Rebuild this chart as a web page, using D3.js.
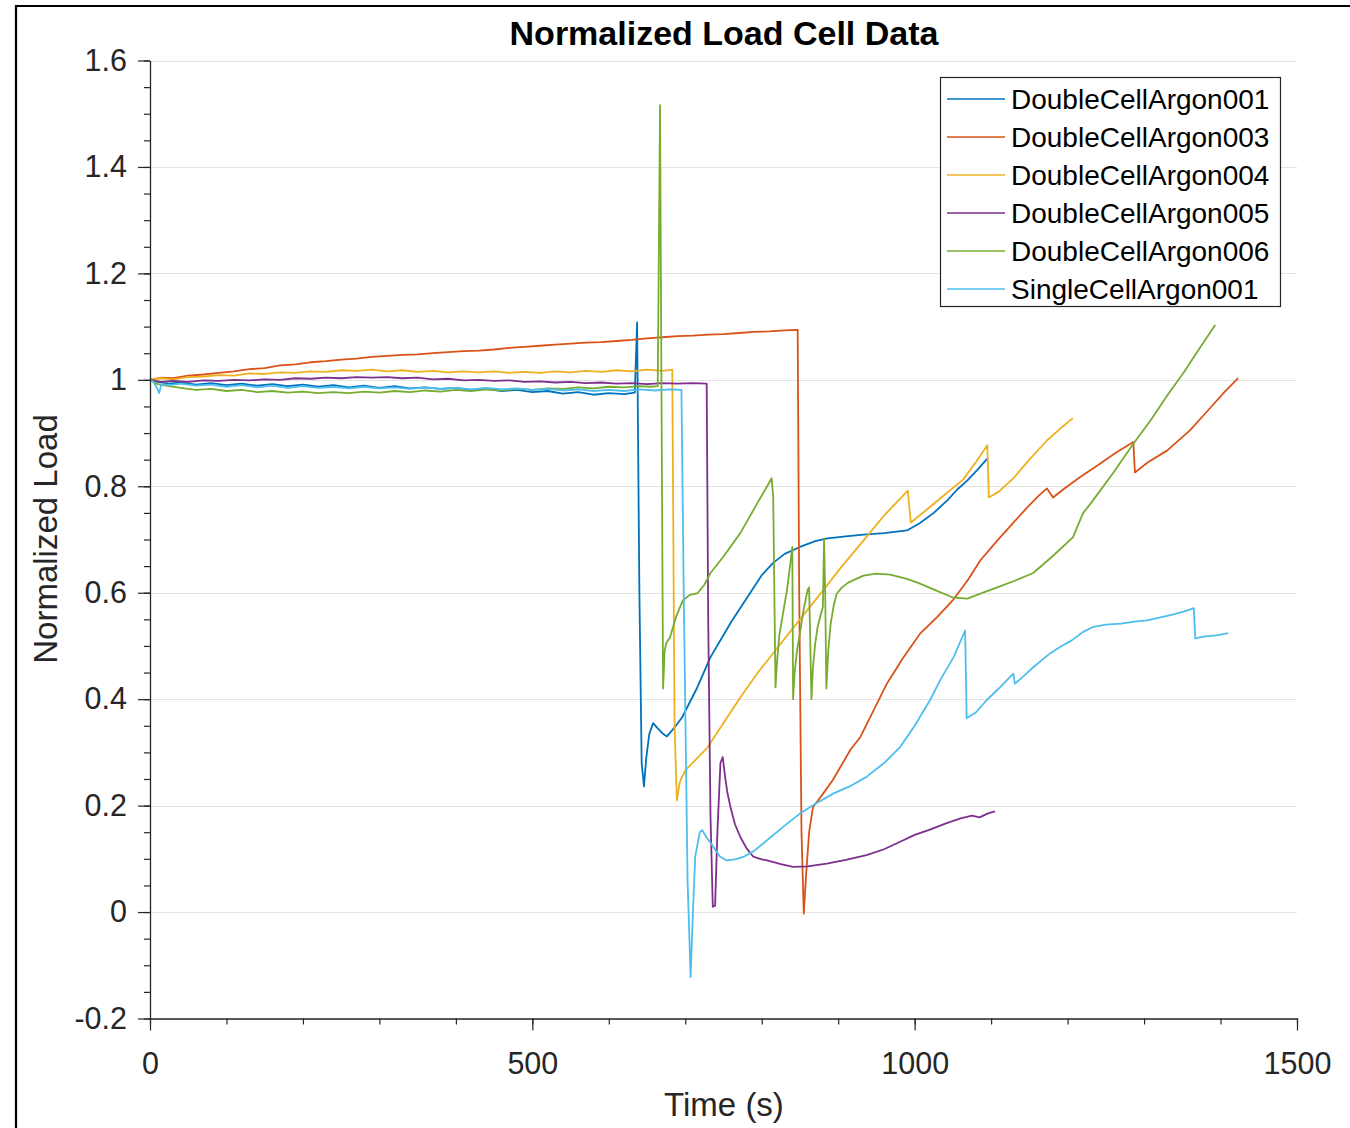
<!DOCTYPE html>
<html><head><meta charset="utf-8">
<script src="https://cdn.jsdelivr.net/npm/d3@7"></script>
<style>body{margin:0;background:#fff}text{font-family:"Liberation Sans",Arial,Helvetica,sans-serif}</style>
</head><body>
<svg id="chart" width="1350" height="1128"></svg>
<script>
const seriesNames = ["DoubleCellArgon001","DoubleCellArgon003","DoubleCellArgon004","DoubleCellArgon005","DoubleCellArgon006","SingleCellArgon001"];
const seriesColors = ["#0072BD","#D95319","#EDB120","#7E2F8E","#77AC30","#4DBEEE"];

// [time (s), normalized load]
const dca001 = [[0,1.002],[10,0.996],[25,0.993],[40,0.995],[60,0.991],[80,0.994],[100,0.990],[120,0.993],[140,0.989],[160,0.992],[180,0.988],[200,0.991],[220,0.987],[240,0.990],[260,0.986],[280,0.989],[300,0.985],[320,0.988],[340,0.984],[360,0.986],[380,0.983],[400,0.985],[420,0.981],[440,0.983],[460,0.979],[480,0.981],[500,0.977],[520,0.979],[540,0.974],[560,0.977],[580,0.972],[600,0.975],[620,0.973],[634,0.976],[637,1.108],[640,0.60],[643,0.28],[646,0.236],[649,0.29],[653,0.335],[658,0.355],[664,0.345],[670,0.336],[676,0.330],[685,0.345],[696,0.366],[715,0.42],[733,0.479],[760,0.545],[785,0.60],[800,0.633],[815,0.656],[830,0.673],[850,0.686],[870,0.697],[886,0.702],[910,0.706],[933,0.709],[960,0.712],[990,0.717],[1007,0.731],[1025,0.750],[1043,0.774],[1055,0.793],[1069,0.811],[1082,0.831],[1095,0.852]];

const dca003 = [[0,1.000],[15,1.004],[30,1.003],[50,1.008],[70,1.010],[90,1.013],[110,1.016],[130,1.020],[150,1.022],[170,1.027],[190,1.029],[210,1.033],[230,1.035],[250,1.038],[270,1.040],[290,1.043],[310,1.045],[330,1.047],[350,1.048],[370,1.050],[390,1.052],[410,1.054],[430,1.055],[450,1.057],[470,1.060],[490,1.062],[510,1.064],[530,1.066],[550,1.068],[570,1.070],[590,1.071],[610,1.073],[630,1.075],[650,1.078],[670,1.080],[690,1.082],[710,1.083],[730,1.085],[750,1.086],[770,1.088],[790,1.090],[810,1.091],[830,1.093],[847,1.094],[849,0.6],[852,0.15],[855,-0.003],[858,0.07],[862,0.15],[867,0.197],[880,0.222],[893,0.248],[916,0.305],[929,0.329],[945,0.375],[964,0.43],[985,0.478],[1007,0.523],[1030,0.555],[1050,0.586],[1070,0.625],[1086,0.661],[1108,0.698],[1128,0.73],[1147,0.76],[1162,0.782],[1173,0.796],[1181,0.779],[1195,0.795],[1216,0.817],[1240,0.84],[1262,0.862],[1286,0.883],[1288,0.826],[1305,0.845],[1330,0.867],[1360,0.905],[1387,0.948],[1405,0.977],[1423,1.003]];

const dca004 = [[0,1.000],[15,1.003],[30,1.001],[50,1.005],[70,1.006],[90,1.009],[110,1.008],[130,1.012],[150,1.011],[170,1.014],[190,1.013],[210,1.016],[230,1.015],[250,1.018],[270,1.017],[290,1.019],[310,1.016],[330,1.018],[350,1.015],[370,1.017],[390,1.014],[410,1.016],[430,1.014],[450,1.016],[470,1.013],[490,1.015],[510,1.013],[530,1.016],[550,1.014],[570,1.017],[590,1.015],[610,1.018],[630,1.016],[650,1.019],[670,1.017],[683,1.019],[686,0.35],[689,0.21],[693,0.245],[700,0.266],[729,0.309],[750,0.355],[772,0.403],[795,0.45],[818,0.492],[850,0.55],[880,0.604],[905,0.65],[933,0.698],[960,0.745],[991,0.792],[995,0.732],[1020,0.761],[1040,0.785],[1063,0.812],[1080,0.845],[1095,0.877],[1097,0.779],[1110,0.79],[1129,0.815],[1150,0.85],[1173,0.886],[1190,0.908],[1207,0.928]];

const dca005 = [[0,1.000],[15,0.996],[30,0.998],[50,0.996],[70,0.999],[90,0.998],[110,1.000],[130,0.999],[150,1.001],[170,1.000],[190,1.003],[210,1.002],[230,1.004],[250,1.003],[270,1.005],[290,1.004],[310,1.005],[330,1.003],[350,1.004],[370,1.001],[390,1.002],[410,0.999],[430,1.000],[450,0.998],[470,0.999],[490,0.996],[510,0.997],[530,0.995],[550,0.996],[570,0.994],[590,0.995],[610,0.993],[630,0.994],[650,0.992],[670,0.994],[690,0.993],[710,0.994],[728,0.993],[730,0.55],[733,0.18],[736,0.01],[739,0.012],[742,0.15],[746,0.28],[749,0.291],[752,0.255],[755,0.225],[759,0.198],[765,0.165],[772,0.141],[780,0.12],[789,0.104],[800,0.099],[807,0.097],[825,0.09],[841,0.085],[860,0.086],[885,0.091],[910,0.098],[937,0.107],[960,0.118],[981,0.132],[1000,0.145],[1020,0.155],[1040,0.166],[1060,0.176],[1075,0.181],[1085,0.178],[1095,0.185],[1105,0.189]];

const dca006 = [[0,1.000],[10,0.992],[25,0.988],[40,0.985],[60,0.981],[80,0.983],[100,0.979],[120,0.981],[140,0.977],[160,0.979],[180,0.976],[200,0.978],[220,0.975],[240,0.977],[260,0.975],[280,0.978],[300,0.976],[320,0.979],[340,0.977],[360,0.980],[380,0.978],[400,0.981],[420,0.979],[440,0.982],[460,0.980],[480,0.983],[500,0.981],[520,0.984],[540,0.983],[560,0.986],[580,0.984],[600,0.987],[620,0.986],[640,0.988],[655,0.987],[664,0.988],[667,1.516],[669,0.95],[671,0.42],[673,0.49],[675,0.505],[680,0.516],[688,0.555],[697,0.586],[706,0.596],[716,0.599],[725,0.615],[733,0.637],[750,0.668],[772,0.712],[793,0.765],[813,0.815],[815,0.78],[818,0.422],[820,0.47],[823,0.52],[827,0.554],[833,0.605],[837,0.65],[840,0.686],[841,0.40],[843,0.45],[846,0.49],[850,0.524],[855,0.57],[860,0.605],[862,0.61],[865,0.40],[867,0.46],[870,0.505],[873,0.535],[877,0.558],[880,0.573],[881.5,0.702],[883,0.60],[884.5,0.42],[887,0.49],[890,0.54],[894,0.575],[898,0.598],[905,0.61],[913,0.619],[933,0.632],[950,0.636],[968,0.634],[990,0.626],[1007,0.617],[1030,0.603],[1050,0.591],[1069,0.589],[1085,0.598],[1108,0.61],[1130,0.622],[1155,0.637],[1180,0.668],[1203,0.699],[1207,0.704],[1220,0.749],[1233,0.773],[1260,0.826],[1286,0.88],[1310,0.927],[1330,0.97],[1351,1.012],[1372,1.058],[1393,1.103]];

const sca001 = [[0,1.000],[5,0.995],[9,0.985],[12,0.975],[15,0.992],[25,0.990],[40,0.993],[60,0.989],[80,0.991],[100,0.987],[120,0.990],[140,0.986],[160,0.989],[180,0.985],[200,0.988],[220,0.985],[240,0.987],[260,0.984],[280,0.987],[300,0.984],[320,0.986],[340,0.983],[360,0.986],[380,0.983],[400,0.985],[420,0.982],[440,0.985],[460,0.982],[480,0.984],[500,0.981],[520,0.983],[540,0.980],[560,0.982],[580,0.979],[600,0.981],[620,0.979],[640,0.982],[660,0.980],[680,0.982],[695,0.981],[698,0.6],[703,0.06],[707,-0.122],[710,0.0],[713,0.104],[719,0.15],[722,0.154],[728,0.14],[737,0.122],[745,0.105],[754,0.097],[765,0.099],[776,0.1035],[790,0.115],[807,0.135],[828,0.16],[850,0.185],[872,0.205],[894,0.223],[915,0.236],[937,0.254],[960,0.28],[981,0.31],[1000,0.35],[1020,0.398],[1035,0.44],[1051,0.479],[1066,0.529],[1068,0.364],[1080,0.375],[1094,0.398],[1110,0.42],[1129,0.448],[1131,0.429],[1140,0.44],[1155,0.46],[1177,0.486],[1190,0.498],[1205,0.51],[1221,0.527],[1234,0.536],[1250,0.54],[1270,0.542],[1290,0.546],[1304,0.548],[1320,0.553],[1340,0.56],[1355,0.566],[1365,0.571],[1367,0.514],[1380,0.518],[1395,0.52],[1410,0.524]];

const allSeries = [dca001, dca003, dca004, dca005, dca006, sca001];

const yTicks = [-0.2,0,0.2,0.4,0.6,0.8,1,1.2,1.4,1.6];
const yTickLabels = ["-0.2","0","0.2","0.4","0.6","0.8","1","1.2","1.4","1.6"];
const xTicks = [0,500,1000,1500];
const xTickLabels = ["0","500","1000","1500"];
const titleText = "Normalized Load Cell Data";
const xLabelText = "Time (s)";
const yLabelText = "Normalized Load";

const svg = d3.select("#chart");
const axisColor = "#262626";

svg.append("rect").attr("width",1350).attr("height",1128).attr("fill","#fff");
svg.append("path").attr("d","M16,1128V6H1350").attr("fill","none").attr("stroke","#000").attr("stroke-width",2.2);

const x = d3.scaleLinear().domain([0,1500]).range([150,1297]);
const y = d3.scaleLinear().domain([-0.2,1.6]).range([1018.5,60.5]);

// grid
svg.append("g").selectAll("line").data(yTicks).join("line")
  .attr("x1",x(0)).attr("x2",x(1500))
  .attr("y1",d=>Math.round(y(d))+0.5).attr("y2",d=>Math.round(y(d))+0.5)
  .attr("stroke","#e3e3e3").attr("stroke-width",1);

// lines
const clip = svg.append("clipPath").attr("id","pa").append("rect")
  .attr("x",x(0)).attr("y",y(1.6)-2).attr("width",x(1500)-x(0)).attr("height",y(-0.2)-y(1.6)+4);
const line = d3.line().x(d=>x(d[0])).y(d=>y(d[1]));
svg.append("g").attr("clip-path","url(#pa)").selectAll("path").data(allSeries).join("path")
  .attr("d",line).attr("fill","none")
  .attr("stroke",(d,i)=>seriesColors[i]).attr("stroke-width",1.8).attr("stroke-linejoin","round");

// axes
const yMinor = d3.range(-0.2,1.6001,0.05).map(v=>+v.toFixed(2));
const xMinor = d3.range(0,1501,100);

const gy = svg.append("g").attr("transform",`translate(${x(0)},0)`);
gy.call(d3.axisLeft(y).tickValues(yMinor).tickSize(6).tickSizeOuter(0).tickFormat(""));
gy.call(g=>g.select(".domain").remove());
const gy2 = svg.append("g").attr("transform",`translate(${x(0)},0)`);
gy2.call(d3.axisLeft(y).tickValues(yTicks).tickSize(12).tickSizeOuter(0).tickPadding(11)
  .tickFormat((d,i)=>yTickLabels[i]));

const gx = svg.append("g").attr("transform",`translate(0,${y(-0.2)})`);
gx.call(d3.axisBottom(x).tickValues(xMinor).tickSize(6).tickSizeOuter(0).tickFormat(""));
gx.call(g=>g.select(".domain").remove());
const gx2 = svg.append("g").attr("transform",`translate(0,${y(-0.2)})`);
gx2.call(d3.axisBottom(x).tickValues(xTicks).tickSize(12).tickSizeOuter(0).tickPadding(22)
  .tickFormat((d,i)=>xTickLabels[i]));

[gy,gy2,gx,gx2].forEach(g=>{
  g.selectAll("line").attr("stroke",axisColor).attr("stroke-width",1.2);
  g.selectAll(".domain").attr("stroke",axisColor).attr("stroke-width",1.3);
  g.selectAll("text").attr("fill",axisColor).style("font-size","30.5px")
    .style("font-family",'"Liberation Sans",Arial,sans-serif');
});

// title and labels
svg.append("text").attr("x",724).attr("y",45).attr("text-anchor","middle")
  .style("font-size","34px").style("font-weight","bold").attr("fill","#000").text(titleText);
svg.append("text").attr("x",724).attr("y",1116).attr("text-anchor","middle")
  .style("font-size","33px").attr("fill",axisColor).text(xLabelText);
svg.append("text").attr("transform","translate(57,539) rotate(-90)").attr("text-anchor","middle")
  .style("font-size","33px").attr("fill",axisColor).text(yLabelText);

// legend
const lg = svg.append("g");
lg.append("rect").attr("x",940.5).attr("y",77.5).attr("width",340).attr("height",229)
  .attr("fill","#fff").attr("stroke",axisColor).attr("stroke-width",1.2);
const items = lg.selectAll("g.item").data(seriesNames).join("g").attr("class","item")
  .attr("transform",(d,i)=>`translate(0,${99+38*i})`);
items.append("line").attr("x1",947).attr("x2",1005).attr("y1",0).attr("y2",0)
  .attr("stroke",(d,i)=>seriesColors[i]).attr("stroke-width",1.6);
items.append("text").attr("x",1011).attr("y",10).style("font-size","28px")
  .attr("fill","#000").text(d=>d);
</script>
</body></html>
